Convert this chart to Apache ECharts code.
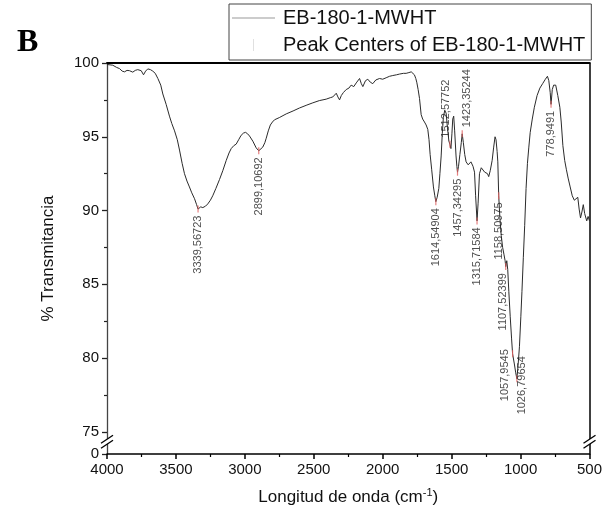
<!DOCTYPE html>
<html>
<head>
<meta charset="utf-8">
<script src="https://cdn.jsdelivr.net/npm/echarts@6/dist/echarts.min.js"></script>
<style>
  html, body { margin: 0; padding: 0; background: #ffffff; }
  #chart { width: 605px; height: 517px; }
</style>
</head>
<body>
<div id="chart"></div>
<script>
// FTIR spectrum of EB-180-1-MWHT: wavenumber (cm-1) and % transmittance
const wavenumber = [
  4000, 3990, 3958, 3930, 3909, 3890, 3873, 3855, 3837, 3813, 3795, 3777, 3752, 3735, 3720, 3704,
  3685, 3668, 3650, 3631, 3610, 3595, 3571, 3547, 3530, 3510, 3490, 3474, 3455, 3438, 3420, 3402,
  3385, 3365, 3350, 3339.56723, 3320, 3305, 3285, 3269, 3250, 3233, 3210, 3184, 3160, 3135, 3115,
  3099, 3080, 3063, 3045, 3027, 3010, 2995, 2980, 2966, 2942, 2918, 2899.10692, 2885, 2870, 2855,
  2845, 2830, 2815, 2800, 2785, 2750, 2700, 2650, 2604, 2550, 2507, 2460, 2410, 2380, 2362, 2350,
  2337, 2325, 2313, 2300, 2285, 2265, 2245, 2229, 2210, 2192, 2168, 2155, 2144, 2125, 2108, 2090,
  2072, 2050, 2023, 2000, 1975, 1950, 1927, 1900, 1878, 1850, 1830, 1810, 1793, 1780, 1770, 1760,
  1753, 1743, 1733, 1721, 1710, 1697, 1685, 1673, 1664, 1656, 1645, 1632, 1622, 1614.54904, 1605,
  1593, 1585, 1576, 1568, 1560, 1550, 1540, 1530, 1520, 1512.57752, 1505, 1498, 1492, 1485, 1478,
  1468, 1462, 1457.34295, 1450, 1440, 1430, 1423.35244, 1415, 1405, 1395, 1380, 1360, 1345, 1334,
  1326, 1315.71584, 1308, 1298, 1285, 1274, 1260, 1249, 1240, 1231, 1220, 1206, 1195, 1185, 1178,
  1170, 1165, 1158.50975, 1150, 1140, 1130, 1120, 1112, 1107.52399, 1100, 1093, 1085, 1075, 1065,
  1057.9545, 1045, 1035, 1026.79654, 1018, 1008, 998, 990, 980, 970, 960, 950, 940, 930, 915, 900,
  880, 860, 840, 820, 805, 795, 785, 778.9491, 770, 760, 745, 730, 715, 705, 693, 680, 668, 655,
  640, 625, 610, 600, 585, 575, 565, 555, 545, 535, 520, 510, 500
];
const transmittance = [
  99.9, 99.95, 99.85, 99.7, 99.62, 99.45, 99.4, 99.5, 99.48, 99.38, 99.5, 99.55, 99.48, 99.2, 99.45, 99.6,
  99.55, 99.45, 99.3, 98.95, 98.5, 97.9, 97.2, 96.4, 95.9, 95.4, 94.8, 94.1, 93.2, 92.5, 92.0, 91.6,
  91.2, 90.8, 90.4, 90.1, 90.25, 90.2, 90.3, 90.45, 90.7, 91.0, 91.5, 92.1, 92.7, 93.4, 93.9,
  94.2, 94.4, 94.5, 94.8, 95.1, 95.25, 95.3, 95.2, 95.05, 94.7, 94.25, 94.05, 94.15, 94.3, 94.6,
  94.9, 95.4, 95.8, 96.0, 96.15, 96.3, 96.55, 96.75, 96.95, 97.15, 97.3, 97.45, 97.55, 97.65, 97.7, 97.6,
  97.95, 97.7, 97.5, 97.8, 98.0, 98.2, 98.3, 98.5, 98.4, 98.65, 98.95, 98.6, 98.4, 98.8, 98.9, 98.7,
  98.6, 98.85, 98.95, 98.9, 99.0, 99.1, 99.15, 99.2, 99.25, 99.3, 99.3, 99.35, 99.4, 99.35, 99.2, 98.95,
  98.7, 98.2, 97.6, 96.5, 96.2, 96.0, 95.8, 95.5, 94.8, 93.8, 92.8, 91.6, 91.0, 90.6, 90.9,
  91.5, 92.5, 93.7, 95.2, 96.3, 96.8, 96.6, 95.6, 94.7, 94.5, 94.2, 95.2, 96.2, 96.4, 95.4,
  93.7, 93.0, 92.6, 93.0, 93.8, 94.6, 95.2, 94.6, 93.8, 93.3, 93.1, 93.3, 93.0, 92.6,
  91.0, 89.3, 90.5, 92.5, 92.9, 92.85, 92.6, 92.7, 92.5, 92.3, 92.7, 93.4, 94.3, 95.0, 94.8,
  94.0, 93.3, 91.0, 89.5, 88.3, 87.5, 87.0, 86.6, 86.2, 86.6, 86.0, 84.5, 82.8, 81.3,
  80.3, 79.6, 79.0, 78.6, 79.5, 80.8, 82.8, 84.5, 86.8, 89.0, 91.5, 93.2, 94.3, 95.3, 96.2, 97.0,
  97.8, 98.3, 98.6, 98.9, 99.1, 98.8, 98.0, 97.2, 98.2, 98.5, 98.5, 97.8, 97.0, 96.0, 94.4, 93.4, 92.8, 92.2,
  91.6, 91.0, 90.7, 90.8, 90.9, 90.1, 89.5, 89.9, 90.4, 89.8, 89.3, 89.6, 89.3
];

// Peak centres found on the spectrum
const peakCenters = [
  3339.56723, 2899.10692, 1614.54904, 1512.57752, 1457.34295, 1423.35244,
  1315.71584, 1158.50975, 1107.52399, 1057.9545, 1026.79654, 778.9491
];
const peakTransmittance = [90.1, 94.05, 90.6, 94.5, 92.6, 95.2, 89.3, 91.0, 86.2, 80.3, 78.6, 97.2];

// Label placement per peak: which side of the marker, and a screen nudge [dx, dy] in px
const peakLabelSide = ['down', 'down', 'down', 'up', 'down', 'up', 'down', 'down', 'down', 'down', 'down', 'down'];
const peakLabelShift = [[0, 0], [0, 0], [0, 0], [-4, 0], [0, 0], [5, 0], [0, 0], [0, 0], [-3, 0], [-8, -11], [5, -29], [0, 0]];

// Axis ticks; the foot of the broken y axis carries the "0" label
const yTickValues = [75, 80, 85, 90, 95, 100];
const yMinorTickValues = [77.5, 82.5, 87.5, 92.5, 97.5];
const yAxisFoot = 73.5;
const yFootLabel = '0';
const xMin = 500, xMax = 4000, xStep = 500;

const seriesName = 'EB-180-1-MWHT';
const peakSeriesName = 'Peak Centers of EB-180-1-MWHT';

const FONT = 'Liberation Sans, Arial, Helvetica, sans-serif';
const chart = echarts.init(document.getElementById('chart'), null, { renderer: 'canvas' });

const spectrum = wavenumber.map((w, i) => [w, transmittance[i]]);
const peaks = peakCenters.map((w, i) => {
  const up = peakLabelSide[i] === 'up';
  const [dx, dy] = peakLabelShift[i];
  return {
    value: [w, peakTransmittance[i]],
    label: {
      position: up ? 'top' : 'bottom',
      distance: 3,
      align: up ? 'left' : 'right',
      verticalAlign: 'middle',
      // the label is turned by 90 degrees, so its offset lives in the turned frame
      offset: [-dy, dx]
    }
  };
});

const option = {
  animation: false,
  backgroundColor: '#ffffff',
  title: {
    text: 'B',
    left: 12,
    top: 22,
    textStyle: { fontFamily: 'Liberation Serif, Times New Roman, serif', fontWeight: 'bold', fontSize: 32, color: '#000' }
  },
  legend: {
    orient: 'vertical',
    left: 229,
    top: 4,
    padding: [3, 6, 4, 3],
    itemGap: 5,
    itemWidth: 43,
    itemHeight: 12,
    borderColor: '#444',
    borderWidth: 1,
    textStyle: { fontFamily: FONT, fontSize: 20, color: '#111', lineHeight: 22, padding: [0, 0, 0, 3] },
    data: [
      { name: seriesName, icon: 'path://M0,0H40V1H0Z', itemStyle: { color: '#9a9a9a' } },
      { name: peakSeriesName, icon: 'path://M0,0H1V12H0Z', itemStyle: { color: '#d8d8d8' } }
    ]
  },
  grid: { left: 107, right: 15, top: 63, bottom: 63 },
  xAxis: [
    {
      type: 'value',
      inverse: true,
      min: xMin,
      max: xMax,
      interval: xStep,
      name: 'Longitud de onda (cm{sup|-1})',
      nameLocation: 'middle',
      nameGap: 33,
      nameTextStyle: {
        fontFamily: FONT, fontSize: 17, color: '#111',
        rich: { sup: { fontFamily: FONT, fontSize: 11, color: '#111', padding: [0, 0, 9, 0] } }
      },
      axisLine: { show: true, onZero: false, lineStyle: { color: '#000', width: 1.5 } },
      axisTick: { show: true, length: 5, lineStyle: { color: '#000', width: 1.5 } },
      minorTick: { show: true, splitNumber: 2, length: 3, lineStyle: { color: '#000', width: 1.2 } },
      axisLabel: { fontFamily: FONT, fontSize: 15, color: '#111', margin: 8, formatter: v => String(v) },
      splitLine: { show: false }
    },
    {
      type: 'value',
      position: 'top',
      inverse: true,
      min: xMin,
      max: xMax,
      axisLine: { show: true, onZero: false, lineStyle: { color: '#000', width: 2 } },
      axisTick: { show: false },
      axisLabel: { show: false },
      splitLine: { show: false }
    }
  ],
  yAxis: [
    {
      type: 'value',
      min: yAxisFoot,
      max: 100,
      name: '% Transmitancia',
      nameLocation: 'middle',
      nameGap: 50,
      nameTextStyle: { fontFamily: FONT, fontSize: 17, color: '#111' },
      axisLine: { show: true, onZero: false, lineStyle: { color: '#444', width: 1.3 } },
      axisTick: { show: true, length: 5, customValues: [yAxisFoot].concat(yTickValues), lineStyle: { color: '#222', width: 1.3 } },
      axisLabel: {
        fontFamily: FONT, fontSize: 15, color: '#111', margin: 8,
        customValues: [yAxisFoot].concat(yTickValues),
        formatter: v => (Math.abs(v - yAxisFoot) < 1e-6 ? yFootLabel : String(v))
      },
      splitLine: { show: false }
    },
    {
      type: 'value',
      min: yAxisFoot,
      max: 100,
      position: 'left',
      axisLine: { show: false },
      axisTick: { show: true, length: 3, customValues: yMinorTickValues, lineStyle: { color: '#222', width: 1.2 } },
      axisLabel: { show: false },
      splitLine: { show: false }
    },
    {
      type: 'value',
      min: yAxisFoot,
      max: 100,
      position: 'right',
      axisLine: { show: true, onZero: false, lineStyle: { color: '#000', width: 1.5 } },
      axisTick: { show: false },
      axisLabel: { show: false },
      splitLine: { show: false }
    }
  ],
  series: [
    {
      name: seriesName,
      type: 'line',
      data: spectrum,
      showSymbol: false,
      symbol: 'none',
      sampling: 'none',
      smooth: false,
      lineStyle: { color: '#2b2b2b', width: 1 },
      itemStyle: { color: '#9a9a9a' },
      z: 3
    },
    {
      name: peakSeriesName,
      type: 'scatter',
      data: peaks,
      symbol: 'rect',
      symbolSize: [1.2, 7],
      itemStyle: { color: '#e06060' },
      label: {
        show: true,
        rotate: 90,
        fontFamily: FONT,
        fontSize: 11,
        color: '#222',
        formatter: p => String(p.value[0]).replace('.', ',')
      },
      z: 4
    }
  ]
};

chart.setOption(option);

// Break marks ("//") where the y axis is cut, drawn on both vertical frame lines
function breakMark(x, y) {
  const dx = 6, dy = 4, gap = 5;
  return {
    type: 'group',
    children: [
      { type: 'polygon', shape: { points: [[x - dx, y + dy], [x + dx, y - dy], [x + dx, y - dy + gap], [x - dx, y + dy + gap]] }, style: { fill: '#ffffff' }, z: 10 },
      { type: 'line', shape: { x1: x - dx, y1: y + dy, x2: x + dx, y2: y - dy }, style: { stroke: '#000', lineWidth: 1.3 }, z: 11 },
      { type: 'line', shape: { x1: x - dx, y1: y + dy + gap, x2: x + dx, y2: y - dy + gap }, style: { stroke: '#000', lineWidth: 1.3 }, z: 11 }
    ]
  };
}
const breakValue = 74.5;
const pl = chart.convertToPixel({ xAxisIndex: 0, yAxisIndex: 0 }, [xMax, breakValue]);
const pr = chart.convertToPixel({ xAxisIndex: 0, yAxisIndex: 0 }, [xMin, breakValue]);
chart.setOption({ graphic: [breakMark(pl[0], pl[1]), breakMark(pr[0], pr[1])] });
</script>
</body>
</html>
